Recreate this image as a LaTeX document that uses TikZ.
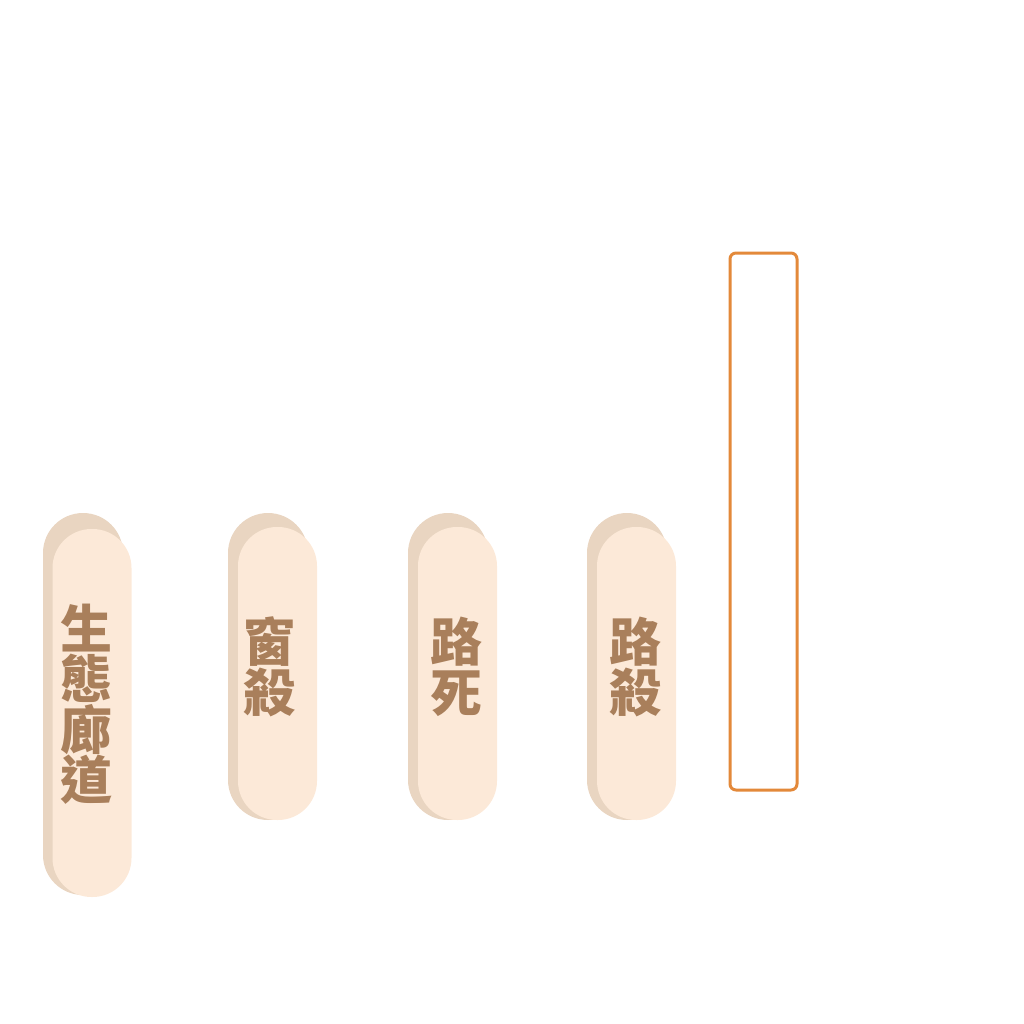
\documentclass[tikz,border=0pt]{standalone}
\usepackage{fontspec}
\newfontfamily\cjk{Noto Sans CJK TC}
\usetikzlibrary{positioning}
\definecolor{pillfill}{HTML}{FCE9D8}
\definecolor{pillshadow}{HTML}{E9D5C1}
\definecolor{labelbrown}{HTML}{A97F5B}
\definecolor{frameorange}{HTML}{E3893A}

\begin{document}
\begin{tikzpicture}
				[
					x=1pt, y=-1pt,
					pillnode/.style={rectangle, fill=pillfill, rounded corners=39pt, minimum width=79pt, inner sep=0pt},
					shadownode/.style={rectangle, fill=pillshadow, rounded corners=40pt, minimum width=80pt, inner sep=0pt},
					labeltext/.style={font=\cjk\bfseries\fontsize{52}{50.5}\selectfont, text=labelbrown, align=center, inner sep=0pt},
					framebox/.style={rectangle, draw=frameorange, line width=3pt, rounded corners=6pt, minimum width=67pt, minimum height=537pt},
				]
				\useasboundingbox (0,0) rectangle (1024,1024);

				\node [shadownode, minimum height=382pt] (corridorshadow) at (83,704) {};
				\node [pillnode, minimum height=368pt] (corridor) at (92,713) {};
				\node [labeltext] (corridorlabel) at (86,704) {生\\態\\廊\\道};

				\node [shadownode, minimum height=307pt] (windowshadow) at (268,666.5) {};
				\node [pillnode, minimum height=293pt] (window) at (277.5,673.5) {};
				\node [labeltext] (windowlabel) at (269,667) {窗\\殺};

				\node [shadownode, minimum height=307pt] (roaddeadshadow) at (448,666.5) {};
				\node [pillnode, minimum height=293pt] (roaddead) at (457.5,673.5) {};
				\node [labeltext] (roaddeadlabel) at (456,667) {路\\死};

				\node [shadownode, minimum height=307pt] (roadkillshadow) at (627,666.5) {};
				\node [pillnode, minimum height=293pt] (roadkill) at (636.5,673.5) {};
				\node [labeltext] (roadkilllabel) at (635,667) {路\\殺};

				\node [framebox] (frame) at (763.5,521.5) {};

			\end{tikzpicture}
\end{document}
